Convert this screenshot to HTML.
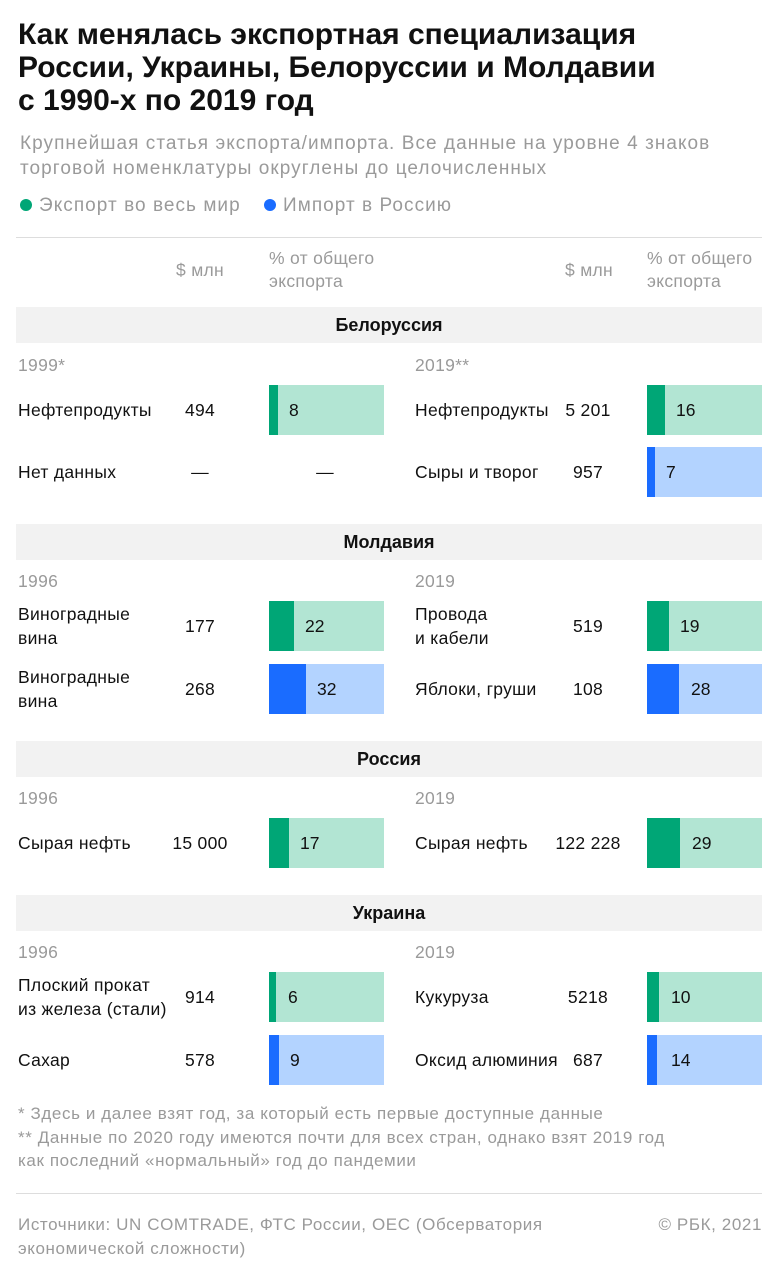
<!DOCTYPE html>
<html><head><meta charset="utf-8"><style>
body{margin:0;background:#fff;}
#c{position:relative;width:782px;height:1283px;font-family:"Liberation Sans","DejaVu Sans",sans-serif;color:#111;overflow:hidden}
.a{position:absolute;white-space:nowrap}
.t{font-size:30px;font-weight:bold;letter-spacing:0px;line-height:33px;left:18px;top:18px}
.g{color:#9a9a9a}
.s{font-size:17.5px;line-height:25px;letter-spacing:0.3px}
.sub{font-size:19px;line-height:25px;letter-spacing:1.05px}
.fn{font-size:17px;line-height:23.5px;letter-spacing:0.6px}
.band{position:absolute;left:16px;width:746px;height:36px;background:#f2f2f2;font-size:18px;font-weight:bold;text-align:center;line-height:36px}
.bar{position:absolute;width:115px;height:50px}
.bar span{position:absolute;top:0;line-height:50px;font-size:17.5px;color:#111}
.dot{position:absolute;width:12px;height:12px;border-radius:50%}
.c{text-align:center;width:80px}
.r{position:absolute;left:16px;width:746px;height:1px;background:#ddd}
</style></head><body><div id="c">
<div class="a t">Как менялась экспортная специализация<br>России, Украины, Белоруссии и Молдавии<br>с 1990-х по 2019 год</div>
<div class="a sub g" style="left:20px;top:131px">Крупнейшая статья экспорта/импорта. Все данные на уровне 4 знаков<br>торговой номенклатуры округлены до целочисленных</div>
<div class="dot" style="left:20px;top:199px;background:#00a676"></div>
<div class="a sub g" style="left:39px;top:193px">Экспорт во весь мир</div>
<div class="dot" style="left:264px;top:199px;background:#1a6cff"></div>
<div class="a sub g" style="left:283px;top:193px">Импорт в Россию</div>
<div class="r" style="top:237px"></div>
<div class="a s g" style="left:176px;top:258px">$ млн</div>
<div class="a s g" style="left:269px;top:247px;line-height:23px">% от общего<br>экспорта</div>
<div class="a s g" style="left:565px;top:258px">$ млн</div>
<div class="a s g" style="left:647px;top:247px;line-height:23px">% от общего<br>экспорта</div>

<div class="band" style="top:307px">Белоруссия</div>
<div class="a s g" style="left:18px;top:353px">1999*</div>
<div class="a s g" style="left:415px;top:353px">2019**</div>
<div class="a s" style="left:18px;top:398px">Нефтепродукты</div>
<div class="a s c" style="left:160px;top:398px">494</div>
<div class="bar" style="left:269px;top:385px;background:linear-gradient(90deg,#00a676 9px,#b2e5d3 9px)"><span style="left:20px">8</span></div>
<div class="a s" style="left:415px;top:398px">Нефтепродукты</div>
<div class="a s c" style="left:548px;top:398px">5 201</div>
<div class="bar" style="left:647px;top:385px;background:linear-gradient(90deg,#00a676 18px,#b2e5d3 18px)"><span style="left:29px">16</span></div>
<div class="a s" style="left:18px;top:460px">Нет данных</div>
<div class="a s c" style="left:160px;top:460px">—</div>
<div class="a s c" style="left:285px;top:460px">—</div>
<div class="a s" style="left:415px;top:460px">Сыры и творог</div>
<div class="a s c" style="left:548px;top:460px">957</div>
<div class="bar" style="left:647px;top:447px;background:linear-gradient(90deg,#1a6cff 8px,#b3d3ff 8px)"><span style="left:19px">7</span></div>

<div class="band" style="top:524px">Молдавия</div>
<div class="a s g" style="left:18px;top:569px">1996</div>
<div class="a s g" style="left:415px;top:569px">2019</div>
<div class="a s" style="left:18px;top:602px;line-height:24px">Виноградные<br>вина</div>
<div class="a s c" style="left:160px;top:614px">177</div>
<div class="bar" style="left:269px;top:601px;background:linear-gradient(90deg,#00a676 25px,#b2e5d3 25px)"><span style="left:36px">22</span></div>
<div class="a s" style="left:415px;top:602px;line-height:24px">Провода<br>и кабели</div>
<div class="a s c" style="left:548px;top:614px">519</div>
<div class="bar" style="left:647px;top:601px;background:linear-gradient(90deg,#00a676 22px,#b2e5d3 22px)"><span style="left:33px">19</span></div>
<div class="a s" style="left:18px;top:665px;line-height:24px">Виноградные<br>вина</div>
<div class="a s c" style="left:160px;top:677px">268</div>
<div class="bar" style="left:269px;top:664px;background:linear-gradient(90deg,#1a6cff 37px,#b3d3ff 37px)"><span style="left:48px">32</span></div>
<div class="a s" style="left:415px;top:677px">Яблоки, груши</div>
<div class="a s c" style="left:548px;top:677px">108</div>
<div class="bar" style="left:647px;top:664px;background:linear-gradient(90deg,#1a6cff 32px,#b3d3ff 32px)"><span style="left:44px">28</span></div>

<div class="band" style="top:741px">Россия</div>
<div class="a s g" style="left:18px;top:786px">1996</div>
<div class="a s g" style="left:415px;top:786px">2019</div>
<div class="a s" style="left:18px;top:831px">Сырая нефть</div>
<div class="a s c" style="left:160px;top:831px">15 000</div>
<div class="bar" style="left:269px;top:818px;background:linear-gradient(90deg,#00a676 20px,#b2e5d3 20px)"><span style="left:31px">17</span></div>
<div class="a s" style="left:415px;top:831px">Сырая нефть</div>
<div class="a s c" style="left:548px;top:831px">122 228</div>
<div class="bar" style="left:647px;top:818px;background:linear-gradient(90deg,#00a676 33px,#b2e5d3 33px)"><span style="left:45px">29</span></div>

<div class="band" style="top:895px">Украина</div>
<div class="a s g" style="left:18px;top:940px">1996</div>
<div class="a s g" style="left:415px;top:940px">2019</div>
<div class="a s" style="left:18px;top:973px;line-height:24px">Плоский прокат<br>из железа (стали)</div>
<div class="a s c" style="left:160px;top:985px">914</div>
<div class="bar" style="left:269px;top:972px;background:linear-gradient(90deg,#00a676 7px,#b2e5d3 7px)"><span style="left:19px">6</span></div>
<div class="a s" style="left:415px;top:985px">Кукуруза</div>
<div class="a s c" style="left:548px;top:985px">5218</div>
<div class="bar" style="left:647px;top:972px;background:linear-gradient(90deg,#00a676 12px,#b2e5d3 12px)"><span style="left:24px">10</span></div>
<div class="a s" style="left:18px;top:1048px">Сахар</div>
<div class="a s c" style="left:160px;top:1048px">578</div>
<div class="bar" style="left:269px;top:1035px;background:linear-gradient(90deg,#1a6cff 10px,#b3d3ff 10px)"><span style="left:21px">9</span></div>
<div class="a s" style="left:415px;top:1048px">Оксид алюминия</div>
<div class="a s c" style="left:548px;top:1048px">687</div>
<div class="bar" style="left:647px;top:1035px;background:linear-gradient(90deg,#1a6cff 10px,#b3d3ff 10px)"><span style="left:24px">14</span></div>

<div class="a g fn" style="left:18px;top:1102px">* Здесь и далее взят год, за который есть первые доступные данные<br>** Данные по 2020 году имеются почти для всех стран, однако взят 2019 год<br>как последний «нормальный» год до пандемии</div>
<div class="r" style="top:1193px"></div>
<div class="a g fn" style="left:18px;top:1213px">Источники: UN COMTRADE, ФТС России, OEC (Обсерватория<br>экономической сложности)</div>
<div class="a g fn" style="right:20px;top:1213px">© РБК, 2021</div>
</div></body></html>
